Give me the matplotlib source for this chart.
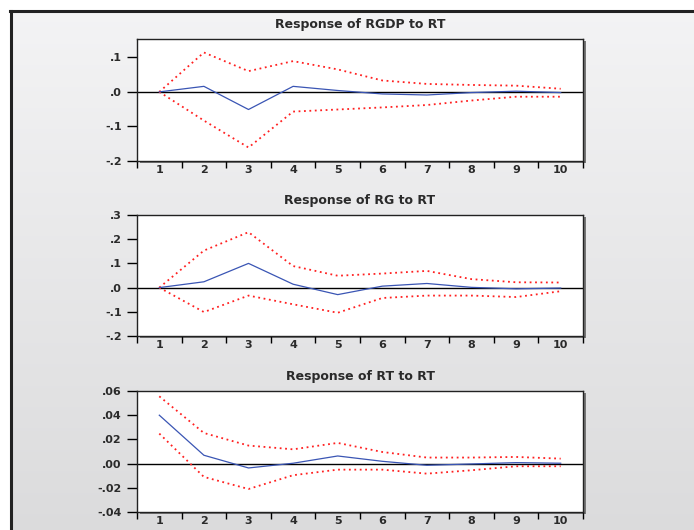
import numpy as np
import matplotlib
matplotlib.use("Agg")
import matplotlib.pyplot as plt
from matplotlib.lines import Line2D
from matplotlib.patches import Rectangle

periods = [1, 2, 3, 4, 5, 6, 7, 8, 9, 10]

titles = ["Response of RGDP to RT", "Response of RG to RT", "Response of RT to RT"]

# response and +/- 2 s.e. bands
rgdp_resp = [0.0, 0.016, -0.051, 0.016, 0.004, -0.006, -0.009, -0.002, 0.002, -0.002]
rgdp_upper = [0.0, 0.114, 0.060, 0.089, 0.065, 0.033, 0.023, 0.020, 0.018, 0.009]
rgdp_lower = [0.0, -0.083, -0.161, -0.057, -0.051, -0.045, -0.038, -0.025, -0.014, -0.014]

rg_resp = [0.0, 0.024, 0.100, 0.014, -0.029, 0.006, 0.017, 0.001, -0.005, -0.002]
rg_upper = [0.0, 0.153, 0.229, 0.089, 0.049, 0.058, 0.069, 0.035, 0.022, 0.021]
rg_lower = [0.0, -0.101, -0.033, -0.069, -0.104, -0.043, -0.033, -0.033, -0.039, -0.015]

rt_resp = [0.040, 0.0069, -0.0036, 0.0003, 0.0063, 0.0019, -0.0014, -0.0003, 0.0008, 0.0003]
rt_upper = [0.0556, 0.0253, 0.0149, 0.0118, 0.0171, 0.0096, 0.0050, 0.0050, 0.0055, 0.0041]
rt_lower = [0.0248, -0.0110, -0.0210, -0.0096, -0.0050, -0.0050, -0.0083, -0.0055, -0.0022, -0.0022]

rgdp_yticks = [0.1, 0.0, -0.1, -0.2]
rgdp_ylabels = [".1", ".0", "-.1", "-.2"]
rg_yticks = [0.3, 0.2, 0.1, 0.0, -0.1, -0.2]
rg_ylabels = [".3", ".2", ".1", ".0", "-.1", "-.2"]
rt_yticks = [0.06, 0.04, 0.02, 0.0, -0.02, -0.04]
rt_ylabels = [".06", ".04", ".02", ".00", "-.02", "-.04"]

panels = [
    (rgdp_resp, rgdp_upper, rgdp_lower, rgdp_yticks, rgdp_ylabels, (-0.2, 0.153)),
    (rg_resp, rg_upper, rg_lower, rg_yticks, rg_ylabels, (-0.2, 0.3)),
    (rt_resp, rt_upper, rt_lower, rt_yticks, rt_ylabels, (-0.04, 0.06)),
]

W, H = 694, 530
fig = plt.figure(figsize=(W / 100, H / 100), dpi=100)
fig.patch.set_facecolor("white")

# grey gradient background inside the frame
bg = fig.add_axes([10 / W, 0, (W - 10) / W, (H - 10) / H])
grad = np.linspace(0.955, 0.86, 256).reshape(-1, 1)
bg.imshow(np.dstack([grad, grad, grad * 1.005]).clip(0, 1), aspect="auto",
          extent=[0, 1, 0, 1])
bg.set_axis_off()
bg.set_zorder(-5)

fig.add_artist(Line2D([10 / W, 1], [1 - 11 / H, 1 - 11 / H], color="#222222", lw=2.2))
fig.add_artist(Line2D([11 / W, 11 / W], [0, 1 - 11 / H], color="#222222", lw=2.2))

left, width = 137 / W, 446 / W
tops = [39, 215, 391]
bottoms = [161, 336, 512]
txt = "#2a2a2a"

for i, (resp, upper, lower, yt, yl, ylim) in enumerate(panels):
    y0 = 1 - bottoms[i] / H
    h = (bottoms[i] - tops[i]) / H
    # shadow behind the plot box
    fig.add_artist(Rectangle((left + 3 / W, y0 - 2 / H), width, h, transform=fig.transFigure,
                             facecolor="#777777", edgecolor="none", zorder=0))
    ax = fig.add_axes([left, y0, width, h])
    ax.set_zorder(1)
    ax.set_facecolor("white")

    ax.axhline(0, color="black", lw=1.0, zorder=1)
    ax.plot(periods, upper, color="#ff2020", lw=1.3, ls=(0, (1, 2.0)), zorder=2)
    ax.plot(periods, lower, color="#ff2020", lw=1.3, ls=(0, (1, 2.0)), zorder=2)
    ax.plot(periods, resp, color="#3a55b4", lw=0.9, zorder=3)

    ax.set_xlim(0.5, 10.5)
    ax.set_ylim(*ylim)

    ax.set_xticks(np.arange(0.5, 11, 1))
    ax.set_xticklabels([])
    ax.set_xticks(periods, minor=True)
    ax.set_xticklabels([str(p) for p in periods], minor=True, fontweight="bold", color=txt)
    ax.tick_params(axis="x", which="major", length=5, width=1, direction="out")
    ax.tick_params(axis="x", which="minor", length=0, pad=3, labelsize=8)

    ax.set_yticks(yt)
    ax.set_yticklabels(yl, fontweight="bold", color=txt)
    ax.tick_params(axis="y", length=7, width=1, direction="out", pad=4, labelsize=8)

    for s in ax.spines.values():
        s.set_linewidth(1.0)
        s.set_color("#222222")

    ax.set_title(titles[i], fontsize=9, fontweight="bold", pad=8, color=txt)

plt.savefig("out.png", dpi=100)
